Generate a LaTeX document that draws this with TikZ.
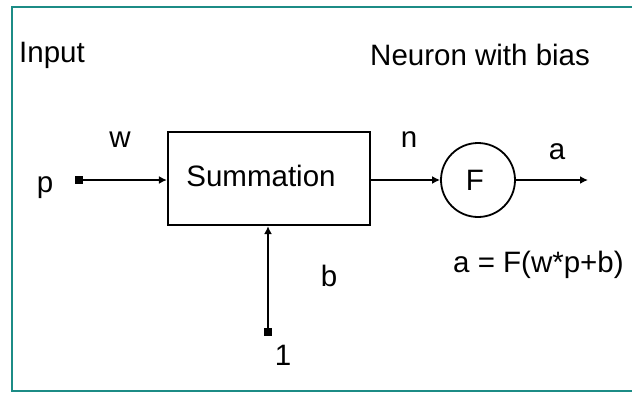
\documentclass[tikz,border=0pt]{standalone}
\usepackage{fontspec}
\setmainfont{Liberation Sans}
\usetikzlibrary{arrows.meta}
\definecolor{frameteal}{RGB}{28,140,134}
\begin{document}
\begin{tikzpicture}[x=1pt,y=-1pt,
  lbl/.style={inner sep=0pt,font=\fontsize{29.5}{32}\selectfont},
  wire/.style={line width=1.8pt,{Square[length=8pt,width=8pt]}-{Latex[length=8pt,width=8pt]}},
  outwire/.style={line width=1.8pt,-{Latex[length=8pt,width=8pt]}},
  sumbox/.style={draw,line width=2.2pt,minimum width=202pt,minimum height=93pt,inner sep=0pt},
  fcirc/.style={draw,circle,line width=1.8pt,minimum size=74pt,inner sep=0pt}]
\useasboundingbox (0,0) rectangle (632,394);
% frame
\draw[frameteal,line width=2.2pt] (632,7) -- (12,7) -- (12,391) -- (632,391);
% titles
\node[lbl,anchor=west] (tin) at (19,55) {Input};
\node[lbl,anchor=west] (tneu) at (370,55) {Neuron with bias};
% blocks
\node[sumbox] (sum) at (269,178.5) {};
\node[lbl] (sumtxt) at (261,176) {Summation};
\node[fcirc] (F) at (478,180) {};
\node[lbl] (Ftxt) at (475,180) {F};
% terminals
\coordinate (pin) at (75,180);
\coordinate (aout) at (588,180);
\coordinate (one) at (268,336);
% connectors
\draw[wire] (pin) -- (sum.west |- pin);
\draw[outwire] (sum.east |- F.west) -- (F.west);
\draw[outwire] (F.east) -- (aout);
\draw[wire] (one) -- (one |- sum.south);
% labels
\node[lbl] (lp) at (45,188) {p};
\node[lbl] (lw) at (120,140) {w};
\node[lbl] (ln) at (409,140) {n};
\node[lbl] (la) at (557,152) {a};
\node[lbl] (lb) at (329,276) {b};
\node[lbl] (l1) at (283,355) {1};
\node[lbl,anchor=west] (leq) at (453,265) {a = F(w*p+b)};
\end{tikzpicture}
\end{document}
